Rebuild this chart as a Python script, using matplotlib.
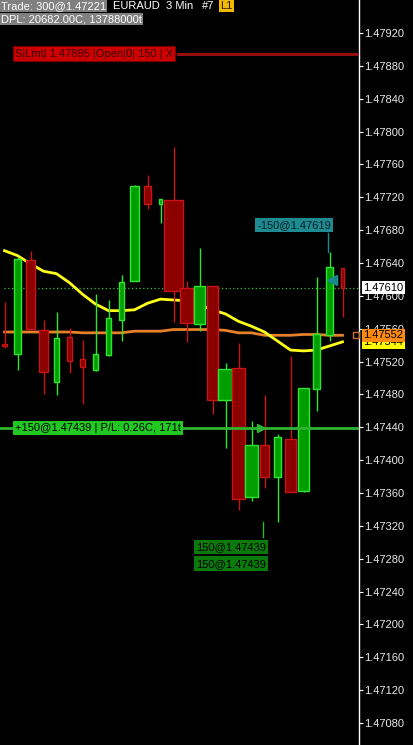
"""EURAUD 3 min candle chart with trade markers, dark terminal style."""
import matplotlib
matplotlib.use("Agg")
import matplotlib.pyplot as plt
from matplotlib import transforms
from matplotlib.patches import Rectangle

# candle data (oldest first)
opens = [1.47541, 1.47529, 1.47644, 1.47558, 1.47495, 1.47550, 1.47523, 1.47510, 1.47528,
         1.47571, 1.47618, 1.47734, 1.47712, 1.47717, 1.47610, 1.47566, 1.47612, 1.47473,
         1.47512, 1.47355, 1.47418, 1.47379, 1.47426, 1.47362, 1.47487, 1.47552, 1.47634]
highs = [1.47593, 1.47647, 1.47655, 1.47571, 1.47580, 1.47561, 1.47546, 1.47602, 1.47595,
         1.47625, 1.47735, 1.47747, 1.47718, 1.47781, 1.47618, 1.47658, 1.47612, 1.47518,
         1.47543, 1.47448, 1.47479, 1.47432, 1.47527, 1.47488, 1.47623, 1.47653, 1.47634]
lows = [1.47537, 1.47510, 1.47559, 1.47480, 1.47479, 1.47506, 1.47468, 1.47509, 1.47527,
        1.47545, 1.47618, 1.47706, 1.47689, 1.47568, 1.47544, 1.47557, 1.47456, 1.47415,
        1.47339, 1.47350, 1.47366, 1.47325, 1.47361, 1.47361, 1.47460, 1.47545, 1.47574]
closes = [1.47539, 1.47645, 1.47560, 1.47507, 1.47549, 1.47521, 1.47513, 1.47529, 1.47573,
          1.47617, 1.47734, 1.47712, 1.47718, 1.47606, 1.47567, 1.47612, 1.47473, 1.47511,
          1.47353, 1.47418, 1.47379, 1.47428, 1.47361, 1.47488, 1.47554, 1.47635, 1.47610]
# relative tick volume -> candle body width
volumes = [5, 7, 9, 9, 5, 5, 5, 5, 5, 5, 9, 7, 3, 19, 13, 11, 11, 14, 13, 13, 9, 7, 11, 11, 7, 7, 3]

ma_fast = [1.47655, 1.47649, 1.47639, 1.47630, 1.47627, 1.47616, 1.47602, 1.47590, 1.47582,
           1.47582, 1.47583, 1.47591, 1.47596, 1.47595, 1.47594, 1.47589, 1.47583, 1.47578,
           1.47569, 1.47563, 1.47556, 1.47545, 1.47534, 1.47533, 1.47534, 1.47539, 1.47544]
ma_slow = [1.47556, 1.47556, 1.47556, 1.47556, 1.47556, 1.47556, 1.47555, 1.47555, 1.47555,
           1.47555, 1.47557, 1.47557, 1.47557, 1.47559, 1.47559, 1.47559, 1.47559, 1.47558,
           1.47555, 1.47555, 1.47552, 1.47552, 1.47552, 1.47553, 1.47553, 1.47552, 1.47552]

price_ticks = [1.47080 + 0.0004 * k for k in range(22)]
last_price = 1.47610
limit_price = 1.47895
position_price = 1.47439
short_fill_price = 1.47619

GREEN_FILL, GREEN_EDGE = "#009e00", "#2ee62e"
RED_FILL, RED_EDGE = "#8c0000", "#c81414"
FONT = "Liberation Sans"
FS = 8

W, H, AXW = 413, 745, 359
fig = plt.figure(figsize=(W / 100, H / 100), dpi=100, facecolor="black")
ax = fig.add_axes([0, 0, AXW / W, 1], facecolor="black")
ax.set_xlim(-4.5 / 13, (AXW - 4.5) / 13)
ax.set_ylim(1.470532, 1.479602)

for s in ("left", "top", "bottom"):
    ax.spines[s].set_visible(False)
ax.spines["right"].set_color("white")
ax.spines["right"].set_linewidth(1)
ax.xaxis.set_visible(False)
ax.yaxis.tick_right()
ax.set_yticks(price_ticks)
ax.set_yticklabels([f"{p:.5f}" for p in price_ticks], fontsize=FS, family=FONT, color="#e8e8e8")
ax.tick_params(axis="y", colors="white", length=3, width=0.8, pad=1, labelcolor="#e8e8e8")

blend = transforms.blended_transform_factory(ax.transAxes, ax.transData)


def fx(px):
    return px / AXW


# moving averages
ax.plot(range(len(ma_slow)), ma_slow, color="#e8802a", lw=2, zorder=2)
ax.plot(range(len(ma_fast)), ma_fast, color="#ffff1a", lw=2, zorder=2)
ax.plot(len(ma_slow), ma_slow[-1], marker="s", ms=5, mfc="none", mec="#c8702a", mew=1, zorder=3,
        clip_on=False)

# last price dotted line
ax.plot([fx(4), 1], [last_price, last_price], transform=blend, color="#2ecc2e", lw=0.9,
        ls=(0, (1, 2)), zorder=1)

# candles
for i, (o, h, l, c, v) in enumerate(zip(opens, highs, lows, closes, volumes)):
    up = c >= o
    fill, edge = (GREEN_FILL, GREEN_EDGE) if up else (RED_FILL, RED_EDGE)
    w = v / 13
    ax.vlines(i, l, h, color=edge, lw=1, zorder=4)
    lo = min(o, c)
    ax.add_patch(Rectangle((i - w / 2, lo), w, max(abs(c - o), 0.000015),
                           fc=fill, ec=edge, lw=1, zorder=5))

# limit order line
ax.plot([fx(178), 1], [limit_price, limit_price], transform=blend, color="#a01010", lw=2, zorder=6)
ax.text(fx(15), limit_price, "S|Lmt| 1.47895 |Open|0| 150 | X", transform=blend, fontsize=FS,
        family=FONT, color="#3a0000", va="center", ha="left", zorder=7,
        bbox=dict(boxstyle="square,pad=0.2", fc="#cc0000", ec="#7a0000", lw=0.8))

# open position line
ax.plot([0, 1], [position_price, position_price], transform=blend, color="#2fb52f", lw=2, zorder=6)
ax.text(fx(15), position_price, "+150@1.47439 | P/L: 0.26C, 171t", transform=blend, fontsize=FS,
        family=FONT, color="black", va="center", ha="left", zorder=7,
        bbox=dict(boxstyle="square,pad=0.2", fc="#22c822", ec="none"))
ax.plot(19.7, position_price, marker=">", ms=6, color="#2fb52f", zorder=7)

# short fill marker
ax.plot(25.2, short_fill_price, marker="<", ms=7, color="#1a8a90", zorder=7)
ax.plot([24.9, 24.9], [1.47676, highs[25]], color="#1a8a90", lw=1, zorder=3)
ax.text(fx(257), 1.47686, "-150@1.47619", transform=blend, fontsize=FS, family=FONT,
        color="#062020", va="center", ha="left", zorder=7,
        bbox=dict(boxstyle="square,pad=0.2", fc="#1e8a92", ec="none"))

# long fill labels
ax.plot([19.9, 19.9], [1.47325, 1.47307], color="#2fb52f", lw=1, zorder=3)
for p in (1.47294, 1.47274):
    ax.text(fx(196), p, "150@1.47439", fontsize=FS, family=FONT, transform=blend,
            color="black", va="center", ha="left", zorder=7,
            bbox=dict(boxstyle="square,pad=0.2", fc="#0a7a0a", ec="none"))

# axis value flags
ax.text(1.012, 1.47544, "1.47544", transform=blend, fontsize=FS, family=FONT, color="black",
        va="center", ha="left", zorder=8, clip_on=False,
        bbox=dict(boxstyle="square,pad=0.15", fc="#ffff00", ec="none"))
ax.text(1.012, ma_slow[-1], "1.47552", transform=blend, fontsize=FS, family=FONT, color="black",
        va="center", ha="left", zorder=9, clip_on=False,
        bbox=dict(boxstyle="square,pad=0.15", fc="#ff8a10", ec="none"))
ax.text(1.012, last_price, "1.47610", transform=blend, fontsize=FS, family=FONT, color="black",
        va="center", ha="left", zorder=9, clip_on=False,
        bbox=dict(boxstyle="square,pad=0.15", fc="white", ec="none"))

# header
fig.text(1 / W, 1 - 1 / H, "Trade: 300@1.47221", fontsize=FS, family=FONT, color="white",
         va="top", ha="left", bbox=dict(boxstyle="square,pad=0.12", fc="#808080", ec="none"))
fig.text(113 / W, 1 - 1 / H, "EURAUD  3 Min", fontsize=FS, family=FONT, color="white",
         va="top", ha="left")
fig.text(202 / W, 1 - 1 / H, "#7", fontsize=FS, family=FONT, color="white",
         va="top", ha="left")
fig.text(220 / W, 1 - 1 / H, "L1", fontsize=FS, family=FONT, color="#222222", va="top", ha="left",
         bbox=dict(boxstyle="square,pad=0.12", fc="#f5b800", ec="none"))
fig.text(1 / W, 1 - 14 / H, "DPL: 20682.00C, 13788000t", fontsize=FS, family=FONT, color="white",
         va="top", ha="left", bbox=dict(boxstyle="square,pad=0.12", fc="#808080", ec="none"))

fig.savefig("out.png", dpi=100, facecolor="black")
